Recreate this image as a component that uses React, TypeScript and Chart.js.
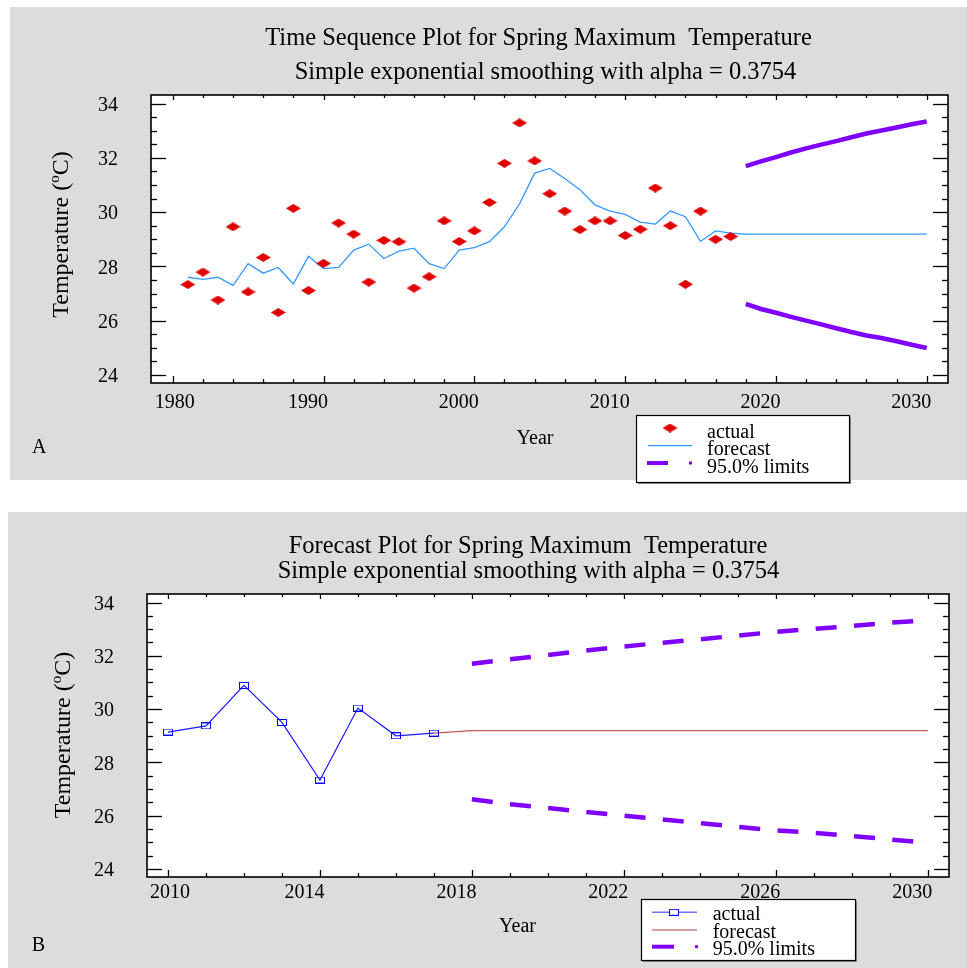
import React, { useEffect, useRef } from 'react';
import { Chart, registerables } from 'chart.js';
Chart.register(...registerables);

const FONT = "'Liberation Serif', 'Times New Roman', Times, serif";
const GRAY = '#dcdcdc';
const PURPLE = '#8000ff';

// ---- data ----
const actualYears = [1981, 1982, 1983, 1984, 1985, 1986, 1987, 1988, 1989, 1990, 1991, 1992, 1993, 1994, 1995, 1996, 1997, 1998, 1999, 2000, 2001, 2002, 2003, 2004, 2005, 2006, 2007, 2008, 2009, 2010, 2011, 2012, 2013, 2014, 2015, 2016, 2017];
const actualTemp = [27.33, 27.79, 26.76, 29.46, 27.06, 28.33, 26.30, 30.14, 27.11, 28.11, 29.60, 29.19, 27.42, 28.96, 28.91, 27.20, 27.62, 29.68, 28.92, 29.31, 30.36, 31.80, 33.29, 31.89, 30.68, 30.04, 29.36, 29.68, 29.68, 29.14, 29.37, 30.89, 29.50, 27.34, 30.04, 29.00, 29.10];
const fittedTemp = [27.60, 27.52, 27.60, 27.30, 28.10, 27.75, 27.96, 27.35, 28.37, 27.92, 27.96, 28.60, 28.82, 28.29, 28.56, 28.67, 28.10, 27.92, 28.60, 28.69, 28.91, 29.46, 30.31, 31.44, 31.61, 31.24, 30.83, 30.27, 30.04, 29.92, 29.63, 29.56, 30.04, 29.83, 28.92, 29.31, 29.23];
const forecastYears = [2018, 2019, 2020, 2021, 2022, 2023, 2024, 2025, 2026, 2027, 2028, 2029, 2030];
const forecastTemp = [29.19, 29.19, 29.19, 29.19, 29.19, 29.19, 29.19, 29.19, 29.19, 29.19, 29.19, 29.19, 29.19];
const upperLimit = [31.70, 31.87, 32.03, 32.20, 32.35, 32.49, 32.62, 32.76, 32.90, 33.01, 33.12, 33.24, 33.34];
const lowerLimit = [26.62, 26.43, 26.29, 26.14, 26.00, 25.86, 25.72, 25.58, 25.45, 25.36, 25.24, 25.11, 24.99];
const yTickLabels = [24, 26, 28, 30, 32, 34];
const xTicksA = [1980, 1990, 2000, 2010, 2020, 2030];
const xTicksB = [2010, 2014, 2018, 2022, 2026, 2030];
const titleA = ['Time Sequence Plot for Spring Maximum  Temperature', 'Simple exponential smoothing with alpha = 0.3754'];
const titleB = ['Forecast Plot for Spring Maximum  Temperature', 'Simple exponential smoothing with alpha = 0.3754'];
const legendLabels = ['actual', 'forecast', '95.0% limits'];
const startYearB = 2010;

const pts = (xs: number[], ys: number[]) => xs.map((x, i) => ({ x, y: ys[i] }));

function makeDiamond() {
  const c = document.createElement('canvas');
  c.width = 15; c.height = 9;
  const g = c.getContext('2d')!;
  g.fillStyle = '#e00000';
  g.beginPath(); g.moveTo(0, 4.5); g.lineTo(7.5, 0); g.lineTo(15, 4.5); g.lineTo(7.5, 9); g.closePath(); g.fill();
  return c;
}
function makeSquare() {
  const c = document.createElement('canvas');
  c.width = 10; c.height = 7;
  const g = c.getContext('2d')!;
  g.strokeStyle = '#0000ff'; g.lineWidth = 1;
  g.strokeRect(0.5, 0.5, 9, 6);
  return c;
}

function line(ctx: CanvasRenderingContext2D, x1: number, y1: number, x2: number, y2: number) {
  ctx.beginPath(); ctx.moveTo(x1, y1); ctx.lineTo(x2, y2); ctx.stroke();
}

function drawYTitle(ctx: CanvasRenderingContext2D, bx: number, cy: number) {
  ctx.save();
  ctx.translate(bx, cy); ctx.rotate(-Math.PI / 2);
  const big = `24px ${FONT}`, small = `15px ${FONT}`;
  ctx.font = big; const w1 = ctx.measureText('Temperature (').width; const w3 = ctx.measureText('C)').width;
  ctx.font = small; const w2 = ctx.measureText('o').width;
  let x = -(w1 + w2 + w3) / 2;
  ctx.textBaseline = 'alphabetic'; ctx.textAlign = 'left'; ctx.fillStyle = '#000';
  ctx.font = big; ctx.fillText('Temperature (', x, 0); x += w1;
  ctx.font = small; ctx.fillText('o', x, -9); x += w2;
  ctx.font = big; ctx.fillText('C)', x, 0);
  ctx.restore();
}

type PanelCfg = {
  bg: [number, number, number, number];
  xMajor: number[]; xMinorStep: number; xFrom: number; xTo: number;
  xLabelBase: number; titles: string[]; titleCenters: number[]; titleBases: number[];
  yTitle: [number, number]; year: [number, number]; letter: string; letterPos: [number, number];
  legend: (ctx: CanvasRenderingContext2D) => void;
};

function panelPlugin(cfg: PanelCfg) {
  return {
    id: 'panel',
    beforeDraw(chart: any) {
      const { ctx, chartArea: a } = chart;
      ctx.save();
      ctx.fillStyle = '#fff'; ctx.fillRect(0, 0, chart.width, chart.height);
      ctx.fillStyle = GRAY; ctx.fillRect(cfg.bg[0], cfg.bg[1], cfg.bg[2], cfg.bg[3]);
      ctx.fillStyle = '#fff'; ctx.fillRect(a.left, a.top, a.right - a.left, a.bottom - a.top);
      ctx.restore();
    },
    afterDraw(chart: any) {
      const { ctx, chartArea: a, scales } = chart;
      const xs = scales.x, ys = scales.y;
      ctx.save();
      ctx.strokeStyle = '#000'; ctx.lineWidth = 1.3;
      for (let v = 24; v <= 34.001; v += 0.5) {
        const py = Math.round(ys.getPixelForValue(v)) + 0.5;
        const major = Math.abs(v / 2 - Math.round(v / 2)) < 1e-6;
        const len = major ? 15 : 6;
        line(ctx, a.left, py, a.left + len, py);
        line(ctx, a.right, py, a.right - len, py);
      }
      for (let v = cfg.xFrom; v <= cfg.xTo + 0.001; v += cfg.xMinorStep) {
        const px = Math.round(xs.getPixelForValue(v)) + 0.5;
        const major = cfg.xMajor.indexOf(v) >= 0;
        line(ctx, px, a.bottom, px, a.bottom - (major ? 7 : 4));
        line(ctx, px, a.top, px, a.top + (major ? 5 : 3));
      }
      ctx.lineWidth = 1.6;
      ctx.strokeRect(a.left, a.top, a.right - a.left, a.bottom - a.top);
      // x tick labels
      ctx.fillStyle = '#000';
      ctx.font = `20px ${FONT}`;
      ctx.textAlign = 'center'; ctx.textBaseline = 'alphabetic';
      cfg.xMajor.forEach((v, i) => {
        const px = xs.getPixelForValue(v) + (i === 0 ? 2 : -15.5);
        ctx.fillText(String(v), px, cfg.xLabelBase);
      });
      // titles
      ctx.font = `24.5px ${FONT}`;
      cfg.titles.forEach((t, i) => ctx.fillText(t, cfg.titleCenters[i], cfg.titleBases[i]));
      // axis titles
      ctx.font = `20px ${FONT}`;
      ctx.fillText('Year', cfg.year[0], cfg.year[1]);
      ctx.textAlign = 'left';
      ctx.fillText(cfg.letter, cfg.letterPos[0], cfg.letterPos[1]);
      drawYTitle(ctx, cfg.yTitle[0], cfg.yTitle[1]);
      cfg.legend(ctx);
      ctx.restore();
    },
  };
}

function legendBox(ctx: CanvasRenderingContext2D, x: number, y: number, w: number, h: number) {
  ctx.fillStyle = '#8a8a8a';
  ctx.fillRect(x + 2, y + h, w, 2);
  ctx.fillRect(x + w, y + 2, 2, h);
  ctx.fillStyle = '#fff';
  ctx.fillRect(x, y, w, h);
  ctx.strokeStyle = '#000'; ctx.lineWidth = 1.2;
  ctx.strokeRect(x + 0.5, y + 0.5, w, h);
}

function makeLegendA(diamond: HTMLCanvasElement) {
  return (ctx: CanvasRenderingContext2D) => {
    legendBox(ctx, 636, 415, 213, 67);
    ctx.drawImage(diamond, 670 - 7.5, 428 - 4.5);
    ctx.strokeStyle = '#3399ff'; ctx.lineWidth = 1.3;
    line(ctx, 648, 445.7, 692, 445.7);
    ctx.strokeStyle = PURPLE; ctx.lineWidth = 4;
    line(ctx, 647, 463, 668, 463);
    ctx.fillStyle = PURPLE; ctx.fillRect(689, 461.5, 3, 3);
    ctx.fillStyle = '#000'; ctx.font = `20px ${FONT}`; ctx.textAlign = 'left'; ctx.textBaseline = 'alphabetic';
    ctx.fillText(legendLabels[0], 707, 437.7);
    ctx.fillText(legendLabels[1], 707, 455);
    ctx.fillText(legendLabels[2], 707, 472.7);
  };
}

function makeLegendB(square: HTMLCanvasElement) {
  return (ctx: CanvasRenderingContext2D) => {
    legendBox(ctx, 641, 409, 214, 61);
    ctx.strokeStyle = '#7070ff'; ctx.lineWidth = 1.5;
    line(ctx, 652, 422.3, 697, 422.3);
    ctx.fillStyle = '#fff'; ctx.fillRect(670, 419.5, 9, 5);
    ctx.drawImage(square, 674 - 5, 422.3 - 3.5);
    ctx.strokeStyle = '#cc8080'; ctx.lineWidth = 1.5;
    line(ctx, 652, 440, 697, 440);
    ctx.strokeStyle = PURPLE; ctx.lineWidth = 4;
    line(ctx, 652, 456.7, 674, 456.7);
    ctx.fillStyle = PURPLE; ctx.fillRect(695, 455.2, 3, 3);
    ctx.fillStyle = '#000'; ctx.font = `20px ${FONT}`; ctx.textAlign = 'left'; ctx.textBaseline = 'alphabetic';
    ctx.fillText(legendLabels[0], 712.7, 430);
    ctx.fillText(legendLabels[1], 712.7, 448.3);
    ctx.fillText(legendLabels[2], 712.7, 465);
  };
}

function yScale(width: number) {
  return {
    type: 'linear',
    min: 23.7,
    max: 34.32,
    grid: { display: false, drawTicks: false },
    border: { display: false },
    ticks: { font: { family: FONT, size: 20 }, color: '#000', padding: 33, labelOffset: 2 },
    afterBuildTicks: (s: any) => { s.ticks = yTickLabels.map((v) => ({ value: v })); },
    afterFit: (s: any) => { s.width = width; },
  };
}

export default function App() {
  const refA = useRef<HTMLCanvasElement>(null);
  const refB = useRef<HTMLCanvasElement>(null);

  useEffect(() => {
    const diamond = makeDiamond();
    const square = makeSquare();

    const chartA = new Chart(refA.current!, {
      type: 'scatter',
      data: {
        datasets: [
          { label: 'actual', data: pts(actualYears, actualTemp), showLine: false, pointStyle: diamond as any, pointRadius: 5 },
          { label: 'forecast', data: pts([...actualYears, ...forecastYears], [...fittedTemp, ...forecastTemp]), showLine: true, borderColor: '#3399ff', borderWidth: 1.3, pointRadius: 0 },
          { label: 'upper', data: pts(forecastYears, upperLimit), showLine: true, borderColor: PURPLE, borderWidth: 4.5, pointRadius: 0 },
          { label: 'lower', data: pts(forecastYears, lowerLimit), showLine: true, borderColor: PURPLE, borderWidth: 4.5, pointRadius: 0 },
        ],
      },
      options: {
        responsive: false,
        animation: false,
        events: [],
        layout: { padding: { left: 0, right: 19, top: 95, bottom: 107 }, autoPadding: false },
        plugins: { legend: { display: false }, tooltip: { enabled: false }, title: { display: false } },
        scales: {
          x: { type: 'linear', display: false, min: 1978.56, max: 2031.41 },
          y: yScale(151) as any,
        },
      },
      plugins: [panelPlugin({
        bg: [10, 7, 957, 473],
        xMajor: xTicksA, xMinorStep: 2, xFrom: 1980, xTo: 2030,
        xLabelBase: 408,
        titles: titleA, titleCenters: [538.5, 545.5], titleBases: [45, 79],
        yTitle: [68.3, 234.5], year: [535, 444], letter: 'A', letterPos: [32, 453],
        legend: makeLegendA(diamond),
      }) as any],
    } as any);

    const yearsB = actualYears.filter((y) => y >= startYearB);
    const tempB = actualTemp.slice(actualYears.length - yearsB.length);
    const lastYear = actualYears[actualYears.length - 1];
    const lastTemp = actualTemp[actualTemp.length - 1];

    const chartB = new Chart(refB.current!, {
      type: 'scatter',
      data: {
        datasets: [
          { label: 'actual', data: pts(yearsB, tempB), showLine: true, borderColor: '#1a1aff', borderWidth: 1.2, pointStyle: square as any, pointRadius: 5 },
          { label: 'forecast', data: pts([lastYear, ...forecastYears], [lastTemp, ...forecastTemp]), showLine: true, borderColor: '#c05858', borderWidth: 1.2, pointRadius: 0 },
          { label: 'upper', data: pts(forecastYears, upperLimit), showLine: true, borderColor: PURPLE, borderWidth: 4.5, borderDash: [21, 17.4], borderCapStyle: 'butt', pointRadius: 0 },
          { label: 'lower', data: pts(forecastYears, lowerLimit), showLine: true, borderColor: PURPLE, borderWidth: 4.5, borderDash: [21, 17.4], borderCapStyle: 'butt', pointRadius: 0 },
        ],
      },
      options: {
        responsive: false,
        animation: false,
        events: [],
        layout: { padding: { left: 0, right: 18, top: 104, bottom: 91 }, autoPadding: false },
        plugins: { legend: { display: false }, tooltip: { enabled: false }, title: { display: false } },
        scales: {
          x: { type: 'linear', display: false, min: 2009.447, max: 2030.56 },
          y: yScale(147) as any,
        },
      },
      plugins: [panelPlugin({
        bg: [8, 22, 959, 456],
        xMajor: xTicksB, xMinorStep: 1, xFrom: 2010, xTo: 2030,
        xLabelBase: 408,
        titles: titleB, titleCenters: [528, 528.5], titleBases: [63.3, 88.3],
        yTitle: [70, 245], year: [517.5, 442], letter: 'B', letterPos: [31.7, 460.7],
        legend: makeLegendB(square),
      }) as any],
    } as any);

    return () => { chartA.destroy(); chartB.destroy(); };
  }, []);

  return (
    <div style={{ position: 'absolute', left: 0, top: 0, width: 967, height: 968, background: '#fff', overflow: 'hidden' }}>
      <canvas ref={refA} width={967} height={490} style={{ position: 'absolute', left: 0, top: 0, width: 967, height: 490 }} />
      <canvas ref={refB} width={967} height={478} style={{ position: 'absolute', left: 0, top: 490, width: 967, height: 478 }} />
    </div>
  );
}
